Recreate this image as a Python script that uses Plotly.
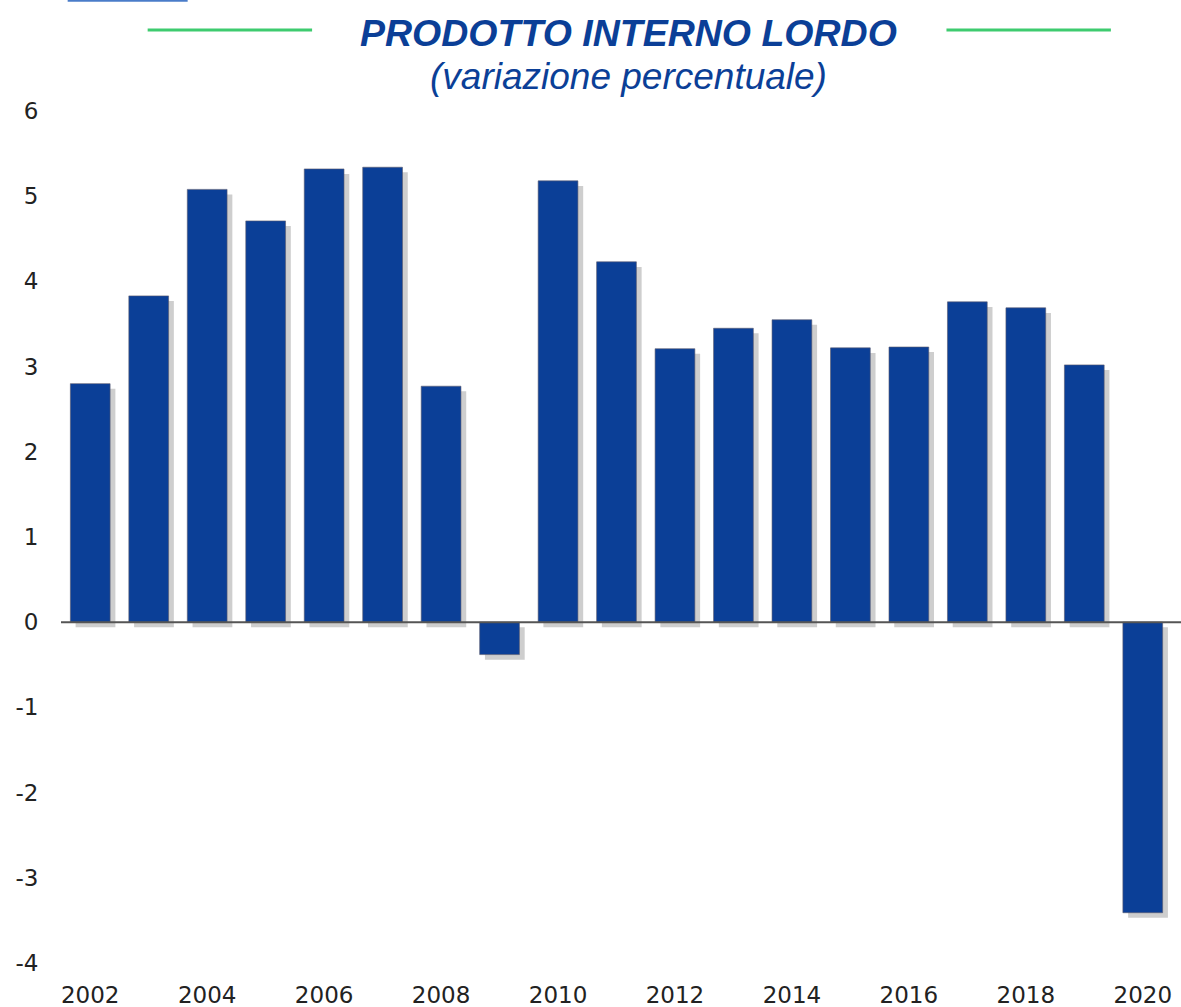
import plotly.graph_objects as go

# Annual real GDP change, %
years = [str(y) for y in range(2002, 2021)]
gdp_change = [2.80, 3.83, 5.08, 4.71, 5.32, 5.34, 2.77, -0.38, 5.18, 4.23,
              3.21, 3.45, 3.55, 3.22, 3.23, 3.76, 3.69, 3.02, -3.41]
tick_years = [str(y) for y in range(2002, 2021, 2)]
y_ticks = list(range(-4, 7))
y_ticktext = [str(v) for v in y_ticks]  # plain hyphen for negatives

title_text = "PRODOTTO INTERNO LORDO"
subtitle_text = "(variazione percentuale)"

BLUE = "#0b3f97"
GREEN = "#3ecb6f"

fig = go.Figure()

# soft drop shadow behind the bars
fig.add_trace(go.Bar(
    x=years,
    y=gdp_change,
    base=-0.06,
    width=0.68,
    offset=-0.34 + 0.09,
    marker=dict(color="rgba(60,60,60,0.25)", line=dict(width=0)),
    hoverinfo="skip",
    showlegend=False
))

fig.add_trace(go.Bar(
    x=years,
    y=gdp_change,
    width=0.68,
    offset=-0.34,
    marker=dict(color=BLUE, line=dict(color="rgba(90,90,110,0.6)", width=1)),
    name="PIL",
    showlegend=False
))

# horizontal zero line over the bars
fig.add_shape(type="line", xref="paper", yref="y", x0=0, x1=1.01, y0=0, y1=0,
              line=dict(color="#555555", width=2), layer="above")

# green decorative rules beside the title
for x0, x1 in [(0.078, 0.226), (0.797, 0.945)]:
    fig.add_shape(type="line", xref="paper", yref="paper", x0=x0, x1=x1,
                  y0=1.095, y1=1.095, line=dict(color=GREEN, width=3))

# cropped blue rule at the very top left
fig.add_shape(type="line", xref="paper", yref="paper", x0=0.006, x1=0.114,
              y0=1.1295, y1=1.1295, line=dict(color="#4a7cc9", width=2))

fig.add_annotation(text="<b><i>" + title_text + "</i></b>", xref="paper", yref="paper",
                   x=0.511, y=1.092, showarrow=False, yanchor="middle",
                   font=dict(family="Liberation Sans", size=37.5, color=BLUE))
fig.add_annotation(text="<i>" + subtitle_text + "</i>", xref="paper", yref="paper",
                   x=0.511, y=1.040, showarrow=False, yanchor="middle",
                   font=dict(family="Liberation Sans", size=37, color=BLUE))

fig.update_layout(
    width=1181,
    height=1007,
    margin=dict(l=61, r=9, t=111, b=44),
    paper_bgcolor="white",
    plot_bgcolor="white",
    barmode="overlay",
    xaxis=dict(
        type="category",
        range=[-0.5, 18.5],
        tickvals=tick_years,
        ticktext=tick_years,
        showgrid=False,
        showline=False,
        automargin=False,
        ticks="outside",
        ticklen=11,
        tickcolor="rgba(0,0,0,0)",
        tickfont=dict(family="DejaVu Sans", size=23, color="#222222")
    ),
    yaxis=dict(
        range=[-4, 6],
        tickvals=y_ticks,
        ticktext=y_ticktext,
        showgrid=False,
        zeroline=False,
        showline=False,
        automargin=False,
        ticks="outside",
        ticklen=17,
        tickcolor="rgba(0,0,0,0)",
        tickfont=dict(family="DejaVu Sans", size=23, color="#222222")
    )
)

# drop the default page margin so the figure sits at the window origin
fig.write_html("out.html",
               config={"displayModeBar": False},
               post_script="document.body.style.margin='0';document.body.style.overflow='hidden';")
